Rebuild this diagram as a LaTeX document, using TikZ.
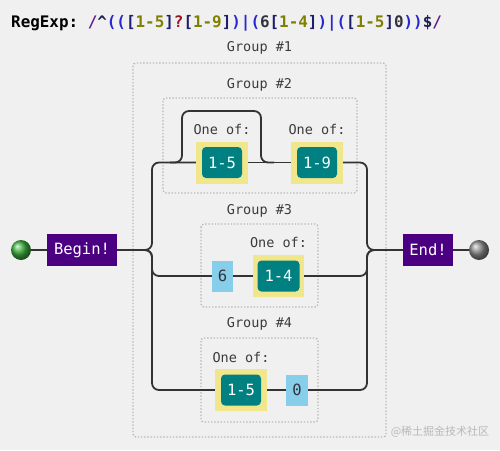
\documentclass[tikz,border=0pt]{standalone}
\usepackage{fontspec}
\setmonofont{DejaVu Sans Mono}
\newfontfamily\cjk{Noto Sans CJK SC}
\definecolor{bgc}{RGB}{240,240,240}
\definecolor{railc}{RGB}{51,51,51}
\definecolor{grpc}{RGB}{185,185,185}
\definecolor{tealc}{RGB}{0,128,128}
\definecolor{khakic}{RGB}{240,230,140}
\definecolor{skyc}{RGB}{135,206,235}
\definecolor{indigoc}{RGB}{75,0,130}
\definecolor{labc}{RGB}{60,60,60}
\definecolor{rxslash}{RGB}{95,30,140}
\definecolor{rxanchor}{RGB}{30,30,80}
\definecolor{rxparen}{RGB}{40,40,210}
\definecolor{rxbrack}{RGB}{30,30,110}
\definecolor{rxrange}{RGB}{128,128,0}
\definecolor{rxq}{RGB}{150,20,40}
\definecolor{rxlit}{RGB}{50,50,60}
\definecolor{wmc}{RGB}{185,185,185}
\definecolor{startg}{RGB}{60,175,60}
\definecolor{endg}{RGB}{140,140,140}
\begin{document}
\begin{tikzpicture}[x=1pt,y=-1pt,
  rail/.style={draw=railc,line width=1.8pt,rounded corners=7pt},
  grpbox/.style={draw=grpc,line width=1.3pt,dash pattern=on 1.4pt off 1.8pt,rounded corners=3pt},
  grplabel/.style={font=\ttfamily\fontsize{13.5}{16}\selectfont,text=labc,inner sep=0pt},
  khakibox/.style={fill=khakic,draw=none,minimum width=52pt,minimum height=42pt,inner sep=0pt},
  tealbox/.style={fill=tealc,draw=none,rounded corners=4pt,minimum width=40pt,minimum height=31pt,inner sep=0pt,text=white,font=\ttfamily\fontsize{15.5}{18}\selectfont},
  litbox/.style={fill=skyc,draw=none,minimum width=21pt,minimum height=31pt,inner sep=0pt,text=rxlit,font=\ttfamily\fontsize{15.5}{18}\selectfont},
  termbox/.style={fill=indigoc,draw=none,minimum height=32pt,inner sep=0pt,text=white,font=\ttfamily\fontsize{15.5}{18}\selectfont},
  ballnode/.style={circle,minimum size=20pt,inner sep=0pt,shading=ball}
]
\fill[bgc] (0,0) rectangle (500,450);
\useasboundingbox (0,0) rectangle (500,450);

% header
\node[anchor=base west,inner sep=0pt,font=\ttfamily\bfseries\fontsize{15.9}{18}\selectfont] (hdr) at (11,27)
 {RegExp: \textcolor{rxslash}{/}\textcolor{rxanchor}{\textasciicircum}\textcolor{rxparen}{((}\textcolor{rxbrack}{[}\textcolor{rxrange}{1-5}\textcolor{rxbrack}{]}\textcolor{rxq}{?}\textcolor{rxbrack}{[}\textcolor{rxrange}{1-9}\textcolor{rxbrack}{]}\textcolor{rxparen}{)|(}\textcolor{rxlit}{6}\textcolor{rxbrack}{[}\textcolor{rxrange}{1-4}\textcolor{rxbrack}{]}\textcolor{rxparen}{)|(}\textcolor{rxbrack}{[}\textcolor{rxrange}{1-5}\textcolor{rxbrack}{]}\textcolor{rxlit}{0}\textcolor{rxparen}{))}\textcolor{rxanchor}{\$}\textcolor{rxslash}{/}};

% group boxes
\draw[grpbox] (133,63) rectangle (386,437);
\draw[grpbox] (163,98) rectangle (357,193);
\draw[grpbox] (201,224) rectangle (318,307);
\draw[grpbox] (201,338) rectangle (318,422);

\node[grplabel] (g1) at (259.5,48) {Group \#1};
\node[grplabel] (g2) at (259.5,85) {Group \#2};
\node[grplabel] (g3) at (259.5,211) {Group \#3};
\node[grplabel] (g4) at (259.5,324) {Group \#4};

\node[grplabel] (o1) at (222,129) {One of:};
\node[grplabel] (o2) at (317,129) {One of:};
\node[grplabel] (o3) at (278.5,242) {One of:};
\node[grplabel] (o4) at (241,357) {One of:};

% terminals
\node[ballnode,ball color=startg] (startc) at (21,250) {};
\node[ballnode,ball color=endg] (endc) at (479,250) {};
\node[termbox,minimum width=70pt] (begin) at (82,250) {Begin!};
\node[termbox,minimum width=50pt] (end) at (428,250) {End!};

% char classes
\node[khakibox] (k15a) at (222,162.5) {};
\node[tealbox] (t15a) at (222,162.5) {1-5};
\node[khakibox] (k19) at (317,162.5) {};
\node[tealbox] (t19) at (317,162.5) {1-9};
\node[khakibox,minimum width=51pt] (k14) at (278.5,276) {};
\node[tealbox,minimum width=42pt] (t14) at (278.5,276) {1-4};
\node[litbox] (l6) at (222.5,276) {6};
\node[khakibox] (k15b) at (241,390) {};
\node[tealbox] (t15b) at (241,390) {1-5};
\node[litbox,minimum width=22pt] (l0) at (297,390) {0};

% rail coordinates
\coordinate (sL) at (152,250);
\coordinate (sR) at (367,250);
\coordinate (lpA) at (170,162.5);
\coordinate (lpB) at (182,111);
\coordinate (lpC) at (261,111);
\coordinate (lpD) at (274,162.5);

% rails
\draw[rail] (startc.east) -- (begin.west);
\draw[rail] (end.east) -- (endc.west);
\draw[rail] (begin.east) -- (sL) |- (k15a.west);
\draw[rail] (begin.east) -- (sL) |- (l6.west);
\draw[rail] (begin.east) -- (sL) |- (k15b.west);
\draw[rail] (k15a.east) -- (k19.west);
\draw[rail] (lpA) -| (lpB) -- (lpC) |- (lpD);
\draw[rail] (l6.east) -- (k14.west);
\draw[rail] (k15b.east) -- (l0.west);
\draw[rail] (k19.east) -| (sR) -- (end.west);
\draw[rail] (k14.east) -| (sR) -- (end.west);
\draw[rail] (l0.east) -| (sR) -- (end.west);

% watermark
\node[inner sep=0pt,text=wmc,font=\cjk\fontsize{11}{13}\selectfont] (wm) at (440,432) {@稀土掘金技术社区};
\end{tikzpicture}
\end{document}
